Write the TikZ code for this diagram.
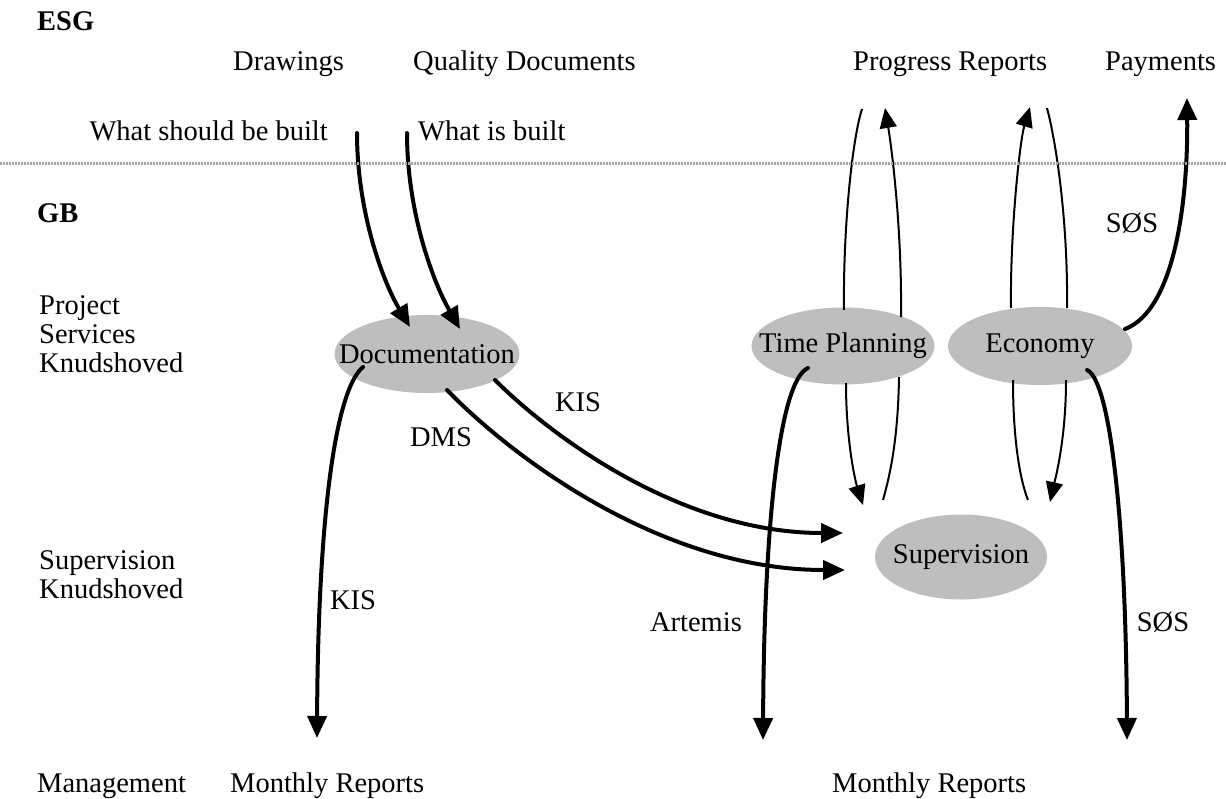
\documentclass[tikz,border=0pt]{standalone}
\usepackage{fontspec}
\setmainfont{Liberation Serif}
\usetikzlibrary{arrows.meta,shapes.geometric}
\definecolor{blobgray}{RGB}{190,190,190}
\definecolor{rulegray}{RGB}{165,165,165}
% zero-width text so the ellipse keeps its given size
\newcommand\blobtext[1]{\makebox[0pt]{#1}}
\begin{document}
\begin{tikzpicture}[x=1pt,y=-1pt,
  every node/.style={font=\fontsize{28.5}{29}\selectfont, inner sep=0pt},
  lbl/.style={anchor=base west},
  stack/.style={anchor=south west, align=left},
  blob/.style={ellipse, fill=blobgray, minimum width=185pt, minimum height=78pt},
  heavy/.style={line width=4pt, line cap=round, -{Triangle[length=22pt,width=19pt]}},
  lightarrow/.style={line width=2pt, -{Triangle[length=20pt,width=17pt]}},
  lightline/.style={line width=2pt},
  divider/.style={draw=rulegray, line width=3pt, dash pattern=on 2pt off 1pt}]
\useasboundingbox (0,0) rectangle (1226,798);

% ---- headings and plain texts ----
\node[lbl, font=\fontsize{28.5}{29}\selectfont\bfseries] (esg) at (37,30) {ESG};
\node[lbl, font=\fontsize{28.5}{29}\selectfont\bfseries] (gb) at (37,222) {GB};
\node[lbl] (drawings) at (233,70) {Drawings};
\node[lbl] (quality) at (413,70) {Quality Documents};
\node[lbl] (progress) at (853,70) {Progress Reports};
\node[lbl] (payments) at (1105,70) {Payments};
\node[anchor=base east] (wsb) at (328,140) {What should be built};
\node[lbl] (wib) at (418,140) {What is built};
\node[stack] (psk) at (39,373) {Project\\Services\\Knudshoved};
\node[stack] (svk) at (39,599) {Supervision\\Knudshoved};
\node[lbl] (mgmt) at (37,792) {Management};
\node[lbl] (mrleft) at (230,792) {Monthly Reports};
\node[lbl] (mrright) at (832,792) {Monthly Reports};

% ---- process ellipses ----
\node[blob] (doc) at (427,354) {\blobtext{Documentation}};
\node[blob, minimum width=183pt, minimum height=77pt] (tp) at (843,346) {\blobtext{Time Planning}};
\node[blob, minimum width=184pt] (eco) at (1040,346) {\blobtext{Economy}};
\node[blob, minimum width=172pt, minimum height=85pt] (sup) at (961,557) {\blobtext{Supervision}};

% ---- free ends of connectors ----
\coordinate (wsbEnd) at (357,133);
\coordinate (wibEnd) at (407,133);
\coordinate (pr1) at (862,109);
\coordinate (pr2) at (885,108);
\coordinate (pr3) at (1030,107);
\coordinate (pr4) at (1047,108);
\coordinate (payEnd) at (1187,98);
\coordinate (mr1) at (317,738);
\coordinate (mr2) at (763,740);
\coordinate (mr3) at (1127,740);

% ---- inputs to Documentation ----
\draw[heavy] (wsbEnd) .. controls (357,210) and (382,280) .. ([shift={(-17,-27)}]doc.center);
\draw[heavy] (wibEnd) .. controls (407,210) and (432,280) .. ([shift={(33,-25)}]doc.center);

% ---- Documentation outputs ----
\draw[heavy] ([shift={(-64,13)}]doc.center) .. controls (335,390) and (318,520) .. (mr1);
\draw[heavy] ([shift={(20,36)}]doc.center) .. controls (510,455) and (660,570) .. ([shift={(-116,13)}]sup.center);
\draw[heavy] ([shift={(68,26)}]doc.center) .. controls (550,435) and (680,533) .. ([shift={(-118,-24)}]sup.center);

% ---- Time Planning links ----
\draw[lightline] ([shift={(1,-36)}]tp.center) .. controls (843,230) and (852,140) .. (pr1);
\draw[lightarrow] ([shift={(58,-29)}]tp.center) .. controls (902,230) and (892,150) .. (pr2);
\draw[lightarrow] ([shift={(3,37)}]tp.center) .. controls (846,440) and (855,480) .. ([shift={(-98,-52)}]sup.center);
\draw[lightline] ([shift={(56,31)}]tp.center) .. controls (898,440) and (890,475) .. ([shift={(-78,-57)}]sup.center);
\draw[heavy] ([shift={(-35,22)}]tp.center) .. controls (780,380) and (764,520) .. (mr2);

% ---- Economy links ----
\draw[lightarrow] ([shift={(-29,-38)}]eco.center) .. controls (1010,230) and (1020,140) .. (pr3);
\draw[lightline] ([shift={(27,-38)}]eco.center) .. controls (1068,230) and (1058,150) .. (pr4);
\draw[lightline] ([shift={(-27,34)}]eco.center) .. controls (1013,440) and (1020,480) .. ([shift={(67,-57)}]sup.center);
\draw[lightarrow] ([shift={(26,34)}]eco.center) .. controls (1066,440) and (1055,480) .. ([shift={(89,-55)}]sup.center);
\draw[heavy] ([shift={(47,24)}]eco.center) .. controls (1110,380) and (1126,520) .. (mr3);
\draw[heavy] ([shift={(85,-17)}]eco.center) .. controls (1175,310) and (1188,200) .. (payEnd);

% ---- connector labels ----
\node (kisA) at (578,402) {KIS};
\node (dms) at (441,437) {DMS};
\node (kisB) at (353,600) {KIS};
\node (artemis) at (696,622) {Artemis};
\node (sosA) at (1163,622) {SØS};
\node (sosB) at (1132,223) {SØS};

% ---- boundary between ESG and GB ----
\draw[divider] (0,163) -- (1226,163);
\end{tikzpicture}
\end{document}
